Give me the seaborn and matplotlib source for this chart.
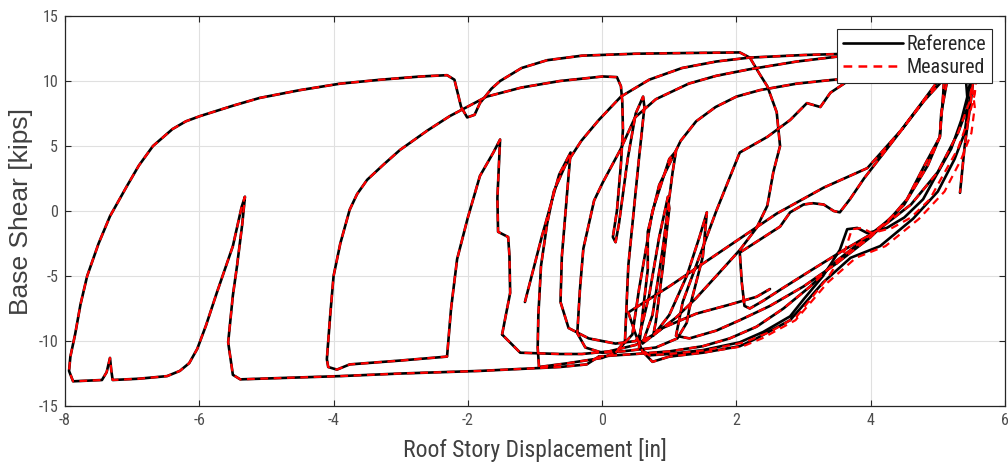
import numpy as np
import pandas as pd
import matplotlib
matplotlib.use("Agg")
import matplotlib.pyplot as plt
import seaborn as sns
from matplotlib.lines import Line2D

# ---------------- data ----------------
# Roof story displacement [in] / base shear [kips] along the record, split in segments
seg1_disp = [-1.15, -0.9, -0.64, -0.47, -0.52, -0.6, -0.62, -0.5, -0.2, 0.2, 0.5, 0.56, 0.7, 0.85, 0.98, 1.0,
             0.9, 0.8, 0.76, 1.0, 1.26, 1.45, 1.56, 1.5, 1.3, 1.26, 1.12, 0.8, 0.3, 0.0, -0.25, -0.37, -0.33,
             -0.28, -0.12, 0.01, 0.27, 0.49, 0.8, 1.29, 1.7, 2.19, 2.9, 3.54, 4.5, 5.1, 5.2, 5.12, 5.05, 5.03,
             4.8, 4.54, 4.29, 3.9, 3.5, 3.1, 2.7, 2.3, 1.9, 1.5, 1.0, 0.5, 0.2, -0.05]
seg1_shear = [-7.0, -2.0, 2.8, 4.5, 1.5, -3.5, -7.0, -9.0, -9.8, -10.2, -10.0, -9.5, -6.5, -2.0, 1.1, 0.2,
              -4.5, -8.5, -9.6, -8.0, -5.0, -2.0, -0.1, -3.5, -7.5, -8.6, -9.8, -10.5, -10.8, -10.9, -10.5, -9.4,
              -6.0, -2.9, 0.8, 2.2, 4.7, 7.2, 8.6, 9.8, 10.4, 10.9, 11.5, 11.9, 12.1, 12.2, 11.6, 9.5, 7.5, 5.7,
              3.5, 0.9, -0.6, -2.2, -3.8, -5.8, -7.5, -8.9, -9.8, -10.4, -10.8, -11.0, -11.1, -11.2]

seg2_disp = [-0.05, -0.23, -0.63, -1.82, -3.0, -3.9, -4.8, -5.39, -5.5, -5.57, -5.5, -5.44, -5.36, -5.32, -5.37,
             -5.5, -5.74, -5.9, -6.03, -6.15, -6.29, -6.48, -6.9, -7.29, -7.31, -7.33, -7.38, -7.45, -7.88, -7.94,
             -7.92, -7.85, -7.77, -7.67, -7.5, -7.33, -7.08, -6.9, -6.69, -6.4, -6.2, -5.99, -5.5, -5.1, -4.5, -3.9,
             -3.3, -2.7, -2.31, -2.2, -2.1, -2.01, -1.9, -1.82, -1.65, -1.52, -1.2, -0.82, -0.3, 0.5, 1.2, 2.05,
             2.2, 2.35, 2.46, 2.6, 2.65, 2.55, 2.46, 2.3, 2.05, 1.7, 1.4, 1.1, 0.8, 0.5, 0.1, -0.3, -0.63, -1.22,
             -1.49]
seg2_shear = [-11.2, -11.8, -12.0, -12.3, -12.5, -12.7, -12.85, -12.95, -12.6, -10.1, -6.5, -4.3, -1.0, 1.1, 0.3,
              -2.7, -6.3, -8.8, -10.6, -11.7, -12.3, -12.7, -12.9, -13.0, -12.3, -11.3, -12.4, -13.0, -13.1, -12.3,
              -11.2, -9.5, -7.2, -5.0, -2.5, -0.4, 1.9, 3.5, 5.0, 6.3, 6.9, 7.3, 8.1, 8.7, 9.3, 9.8,
              10.1, 10.35, 10.45, 10.1, 8.0, 7.2, 7.4, 8.3, 9.4, 10.0, 11.0, 11.6, 11.95, 12.1, 12.15, 12.2,
              11.8, 10.5, 9.6, 7.6, 5.0, 3.0, 0.4, -1.3, -3.0, -5.0, -6.7, -8.2, -9.4, -10.3, -10.8, -11.0, -11.0,
              -10.9, -9.5]

seg3_disp = [-1.49, -1.37, -1.38, -1.4, -1.55, -1.56, -1.52, -1.62, -1.82, -2.0, -2.16, -2.25, -2.31, -3.0, -3.76,
             -3.95, -4.08, -4.1, -4.05, -4.0, -3.9, -3.76, -3.65, -3.5, -3.25, -3.01, -2.6, -2.27, -1.72, -1.2,
             -0.63, 0.01, 0.22, 0.28, 0.3, 0.31, 0.28, 0.22, 0.16, 0.2, 0.25, 0.38, 0.5, 0.61, 0.63, 0.54, 0.39,
             0.34, 0.2, 0.0, -0.5, -0.94]
seg3_shear = [-9.5, -6.3, -3.5, -2.0, -1.6, 1.0, 5.5, 4.5, 2.7, -0.5, -3.7, -7.5, -11.2, -11.5, -11.8,
              -12.2, -12.0, -11.4, -8.0, -5.0, -2.5, 0.1, 1.3, 2.4, 3.6, 4.7, 6.2, 7.3, 8.8, 9.5,
              10.0, 10.35, 10.3, 9.6, 8.4, 6.3, 3.6, 0.0, -2.0, -2.4, -1.0, 4.0, 7.5, 8.8, 8.0, 3.6, -4.2,
              -10.0, -10.9, -11.3, -11.7, -12.0]

seg4_disp = [-0.94, -0.96, -0.95, -0.91, -0.82, -0.72, -0.55, -0.31, -0.05, 0.28, 0.7, 1.19, 1.7, 2.19, 3.0,
             4.0, 5.0, 5.45, 5.55, 5.5, 5.45, 5.35, 5.2, 4.95, 4.78, 4.5, 4.24, 3.95, 3.8, 3.65, 3.54, 3.29, 3.0,
             2.8, 2.4, 2.05, 1.5, 1.0, 0.7, 0.55, 0.6, 0.68, 0.68, 0.85, 1.17, 1.4, 1.69, 2.0, 2.35, 2.9, 3.45,
             4.2, 4.8, 5.3, 5.42, 5.45, 5.4, 5.25, 5.0, 4.63, 4.14, 3.7, 3.29, 2.8, 2.3, 2.05, 1.5, 1.0]
seg4_shear = [-12.0, -10.5, -8.0, -4.2, -1.0, 1.5, 3.5, 5.4, 7.0, 8.8, 10.1, 11.0, 11.5, 11.8, 12.0,
              12.15, 12.3, 12.3, 11.8, 10.5, 9.0, 7.0, 4.8, 2.5, 0.9, -0.5, -1.3, -1.7, -1.3, -1.4, -3.0, -5.0, -6.8,
              -8.1, -9.3, -10.1, -10.7, -11.0, -11.1, -10.5, -8.0, -4.5, -1.6, 2.0, 5.4, 6.9, 8.0, 8.8, 9.3, 9.8, 10.1,
              10.4, 10.6, 10.8, 10.0, 8.0, 6.0, 4.0, 1.5, -0.6, -2.7, -3.6, -5.5, -8.4, -9.8, -10.4, -10.9, -11.2]
# measured record drifts slightly to the right on the late unloading branches
meas_seg4_disp = [-0.94, -0.96, -0.95, -0.91, -0.82, -0.72, -0.55, -0.31, -0.05, 0.28, 0.7, 1.19, 1.7, 2.19, 3.0,
                  4.0, 5.0, 5.45, 5.6, 5.58, 5.55, 5.45, 5.3, 5.05, 4.88, 4.6, 4.32, 4.02, 3.87, 3.72, 3.62, 3.38,
                  3.1, 2.9, 2.5, 2.12, 1.55, 1.0, 0.7, 0.55, 0.6, 0.68, 0.68, 0.85, 1.17, 1.4, 1.69, 2.0, 2.35,
                  2.9, 3.45, 4.2, 4.8, 5.3, 5.5, 5.55, 5.5, 5.35, 5.1, 4.72, 4.22, 3.78, 3.36, 2.88, 2.38, 2.1,
                  1.5, 1.0]

seg5_disp = [1.0, 0.75, 0.6, 0.5, 0.39, 1.0, 1.8, 2.6, 3.3, 3.95, 4.45, 4.8, 5.0, 5.1, 5.08, 5.03, 4.85,
             4.5, 4.0, 3.5, 3.0, 2.5, 2.05, 1.7, 1.3, 1.1, 1.2, 1.45, 1.7, 2.05, 2.46, 2.8, 3.05, 3.25, 3.4,
             3.69, 4.2, 4.8, 5.3, 5.5, 5.52, 5.48, 5.3, 5.0, 4.6, 4.1, 3.6, 3.1, 2.7, 2.4, 2.2, 2.12, 2.08, 2.05,
             2.35, 2.65, 2.8, 3.0, 3.14, 3.3, 3.45, 3.54, 3.69, 3.9, 4.2, 4.5, 4.8, 5.1, 5.35, 5.5, 5.55, 5.48,
             5.4, 5.33]
seg5_shear = [-11.2, -11.6, -10.8, -9.5, -7.8, -5.8, -3.0, -0.2, 1.8, 3.3, 6.2, 8.6, 10.0, 11.0, 9.0, 5.7, 3.5,
              0.5, -2.0, -4.0, -5.8, -7.3, -8.4, -9.2, -9.8, -9.6, -7.0, -3.5, 0.0, 4.5, 5.7, 7.0, 8.3, 8.0, 9.1,
              10.1, 11.2, 11.8, 12.1, 11.9, 10.5, 8.5, 6.0, 3.0, 0.5, -1.5, -3.0, -4.6, -5.9, -6.9, -7.5, -7.3, -5.5,
              -3.2, -2.2, -1.2, -0.1, 0.5, 0.6, 0.5, 0.0, -0.1, 0.9, 2.5, 4.5, 6.5, 8.5, 10.2, 11.3, 11.8, 11.0, 8.0,
              5.0, 1.4]

seg6_disp = [0.2, 0.45, 0.55, 0.75, 1.0, 1.1, 1.05, 0.9, 0.75, 0.6, 0.9, 1.4, 1.9, 2.3, 2.5]
seg6_shear = [-10.9, -9.5, -6.0, 0.0, 4.0, 4.6, 3.0, -3.0, -8.0, -10.2, -9.0, -7.9, -7.2, -6.6, -6.0]

series_names = ["Reference", "Measured"]
series_colors = ["#000000", "#ff0000"]
x_ticks = [-8, -6, -4, -2, 0, 2, 4, 6]
y_ticks = [-15, -10, -5, 0, 5, 10, 15]

# ---------------- assemble table ----------------
series_segments = {
    "Reference": [(seg1_disp, seg1_shear), (seg2_disp, seg2_shear), (seg3_disp, seg3_shear),
                  (seg4_disp, seg4_shear), (seg5_disp, seg5_shear), (seg6_disp, seg6_shear)],
    "Measured": [(seg1_disp, seg1_shear), (seg2_disp, seg2_shear), (seg3_disp, seg3_shear),
                 (meas_seg4_disp, seg4_shear), (seg5_disp, seg5_shear), (seg6_disp, seg6_shear)],
}
rows = []
for name in series_names:
    for k, (dx, sy) in enumerate(series_segments[name]):
        for i, (a, b) in enumerate(zip(dx, sy)):
            rows.append({"series": name, "seg": k, "order": i, "disp": a, "shear": b})
df = pd.DataFrame(rows)

# ---------------- plot ----------------
sns.set_theme(style="whitegrid")
plt.rcParams["font.family"] = ["Roboto Condensed", "DejaVu Sans"]
plt.rcParams["axes.unicode_minus"] = False

fig = plt.figure(figsize=(10.08, 4.67), dpi=100)
ax = fig.add_axes([0.0645, 0.1306, 0.9325, 0.8351])

sns.lineplot(data=df[df.series == "Reference"], x="disp", y="shear", units="seg", estimator=None,
             sort=False, color=series_colors[0], lw=1.9, ax=ax, legend=False)
n_ref = len(ax.lines)
sns.lineplot(data=df[df.series == "Measured"], x="disp", y="shear", units="seg", estimator=None,
             sort=False, color=series_colors[1], lw=1.6, ax=ax, legend=False)
for ln in ax.lines[n_ref:]:
    ln.set_linestyle((0, (3.5, 2.5)))
for ln in ax.lines:
    ln.set_solid_joinstyle("round")
    ln.set_dash_joinstyle("round")

ax.set_xlim(-8, 6)
ax.set_ylim(-15, 15)
ax.set_xticks(x_ticks)
ax.set_yticks(y_ticks)
ax.set_facecolor("white")
ax.grid(True, color="#e0e0e0", lw=0.8)
for s in ax.spines.values():
    s.set_color("#262626")
    s.set_linewidth(0.9)
    s.set_visible(True)
ax.tick_params(direction="in", length=4, width=0.8, color="#262626", labelsize=11.5,
               labelcolor="#4d4d4d", pad=5, top=True, right=True, left=True, bottom=True)
ax.set_xlabel("Roof Story Displacement [in]", fontsize=17, color="#404040", labelpad=7)
ax.set_ylabel("Base Shear [kips]", fontsize=19, color="#404040", labelpad=4,
              family=["Liberation Sans", "DejaVu Sans"])

handles = [Line2D([], [], color=series_colors[0], lw=1.9),
           Line2D([], [], color=series_colors[1], lw=1.8, linestyle=(0, (3.5, 2.5)))]
leg = ax.legend(handles, series_names, loc="upper right", bbox_to_anchor=(0.986, 0.967),
                borderaxespad=0, fontsize=14.5, frameon=True, fancybox=False, handlelength=3.0,
                handletextpad=0.15, borderpad=0.3, labelspacing=0.2)
leg.get_frame().set_edgecolor("#262626")
leg.get_frame().set_linewidth(0.8)
leg.get_frame().set_alpha(1)
for t in leg.get_texts():
    t.set_color("#262626")

fig.savefig("out.png", dpi=100, facecolor="white")
